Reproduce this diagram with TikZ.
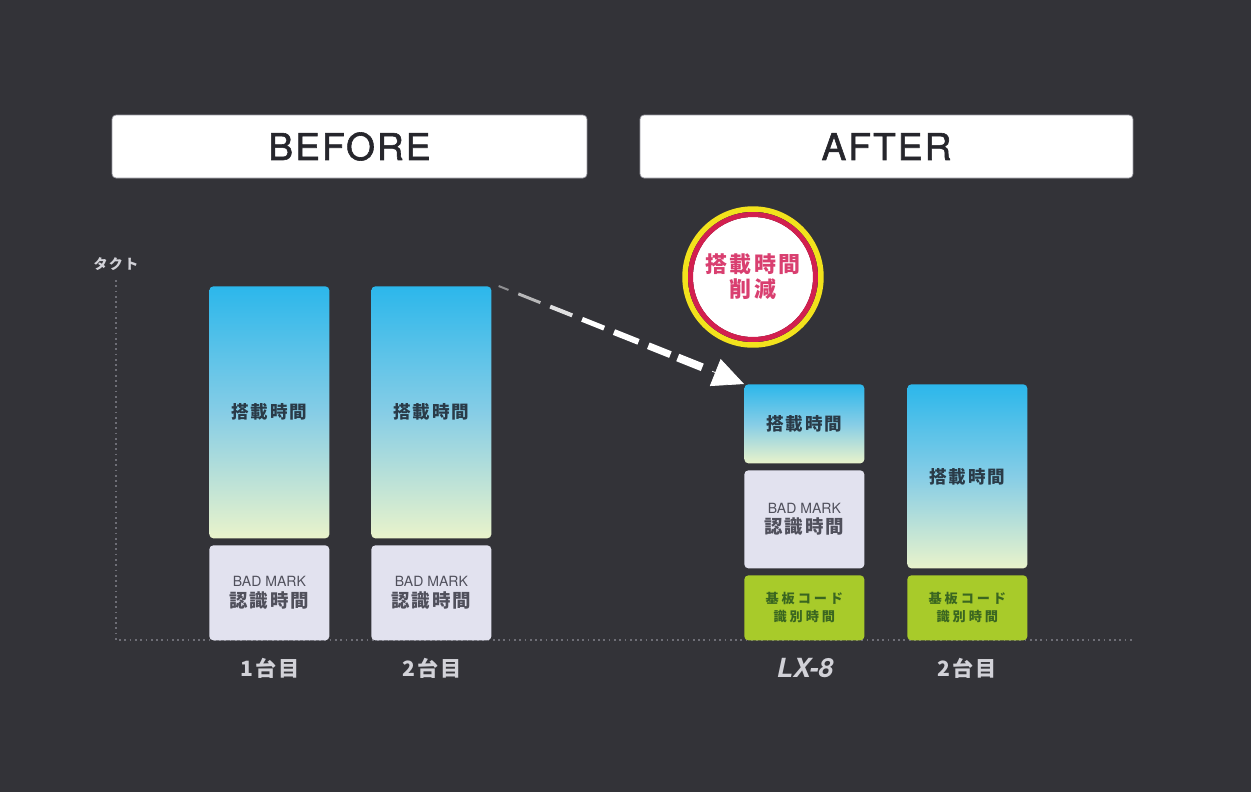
\documentclass[tikz,border=0pt]{standalone}
\usepackage{fontspec}
\setmainfont{TeX Gyre Heros}
\newfontfamily\headfont{TeX Gyre Heros}[LetterSpace=6, FakeBold=1.6]
\newfontfamily\cjk{Noto Sans CJK JP}[LetterSpace=10]
\newfontfamily\cjkwide{Noto Sans CJK JP}[LetterSpace=22]
\usetikzlibrary{calc,arrows.meta}

\definecolor{bgcolor}{HTML}{333338}
\definecolor{headline}{HTML}{9A9AA2}
\definecolor{headtext}{HTML}{26262C}
\definecolor{axisgray}{HTML}{6E6E76}
\definecolor{labeltext}{HTML}{D2D2D8}
\definecolor{bartop}{HTML}{2CB7EB}
\definecolor{barmid}{HTML}{86CDE6}
\definecolor{barbot}{HTML}{E9F3CB}
\definecolor{bartext}{HTML}{2A3B48}
\definecolor{badfill}{HTML}{E2E2EF}
\definecolor{badtext}{HTML}{50505C}
\definecolor{codefill}{HTML}{A8CB2A}
\definecolor{codetext}{HTML}{3A6620}
\definecolor{cuttext}{HTML}{D93F70}
\definecolor{cutred}{HTML}{D21F4F}
\definecolor{cutyellow}{HTML}{F2E21C}

\tikzset{
	header/.style={rectangle, rounded corners=0.08cm, fill=white, draw=headline, line width=0.4pt, minimum height=1.26cm, inner sep=0, font=\headfont\fontsize{21}{21}\selectfont, text=headtext},
	loadbar/.style={rectangle, rounded corners=0.08cm, inner sep=0, minimum width=2.4cm, anchor=north west, top color=bartop, bottom color=barbot, middle color=barmid, font=\cjk\bfseries\fontsize{10}{12}\selectfont, text=bartext},
	badbar/.style={rectangle, rounded corners=0.08cm, inner sep=0, minimum width=2.4cm, anchor=north west, fill=badfill, align=center, font=\fontsize{8}{11.5}\selectfont, text=badtext},
	codebar/.style={rectangle, rounded corners=0.08cm, inner sep=0, minimum width=2.4cm, anchor=north west, fill=codefill, align=center, font=\cjkwide\bfseries\fontsize{7.5}{10.2}\selectfont, text=codetext},
	unitlabel/.style={inner sep=0, font=\cjk\bfseries\fontsize{12}{12}\selectfont, text=labeltext},
	axisline/.style={draw=axisgray, line width=0.035cm, dotted},
}

\begin{document}
\begin{tikzpicture}[x=0.02cm, y=-0.02cm]
			%%%%% START %%%%%
			
			\useasboundingbox (0, 0) rectangle (1251, 792);
			\fill[bgcolor] (0, 0) rectangle (1251, 792);
			
			\node[header, minimum width=9.5cm] (before) at (349.5, 146.5) {BEFORE};
			\node[header, minimum width=9.86cm] (after) at (886.5, 146.5) {AFTER};
			
			\coordinate (ytop) at (116, 280);
			\coordinate (origin) at (116, 640);
			\coordinate (xend) at (1133, 640);
			\draw[axisline] (ytop) -- (origin) -- (xend);
			\node[inner sep=0, font=\cjk\bfseries\fontsize{8}{8}\selectfont, text=labeltext] (takt) at (116, 264) {タクト};
			
			\node[loadbar, minimum height=5.04cm] (b1top) at (209, 286) {搭載時間};
			\node[badbar, minimum height=1.9cm] (b1bad) at (209, 545) {BAD MARK\\{\cjk\bfseries\fontsize{10.5}{11.5}\selectfont 認識時間}};
			
			\node[loadbar, minimum height=5.04cm] (b2top) at (371, 286) {搭載時間};
			\node[badbar, minimum height=1.9cm] (b2bad) at (371, 545) {BAD MARK\\{\cjk\bfseries\fontsize{10.5}{11.5}\selectfont 認識時間}};
			
			\node[loadbar, minimum height=1.58cm] (lxtop) at (744, 384) {搭載時間};
			\node[badbar, minimum height=1.96cm] (lxbad) at (744, 470) {BAD MARK\\{\cjk\bfseries\fontsize{10.5}{11.5}\selectfont 認識時間}};
			\node[codebar, minimum height=1.3cm] (lxcode) at (744, 575) {基板コード\\識別時間};
			
			\node[loadbar, minimum height=3.68cm] (b4top) at (907, 384) {搭載時間};
			\node[codebar, minimum height=1.3cm] (b4code) at (907, 575) {基板コード\\識別時間};
			
			\node[unitlabel] (u1) at (270, 668) {1台目};
			\node[unitlabel] (u2) at (432, 668) {2台目};
			\node[unitlabel, font=\bfseries\itshape\fontsize{15}{15}\selectfont] (u3) at (805, 668) {LX-8};
			\node[unitlabel] (u4) at (967, 668) {2台目};
			
			% reduction badge
			\node[circle, fill=white, minimum size=2.4cm, inner sep=0, align=center, font=\cjk\bfseries\fontsize{12.5}{14.2}\selectfont, text=cuttext] (cut) at (753, 277) {搭載時間\\削減};
			\draw[cutyellow, line width=0.11cm] (cut.center) circle (1.36cm);
			\draw[cutred, line width=0.1cm] (cut.center) circle (1.25cm);
			
			% dashed arrow, growing
			\coordinate (arrstart) at ($(b2top.north east)+(7, 0)$);
			\coordinate (arrtip) at (lxtop.north west);
			\foreach \s/\e/\w/\o in {0/0.04/0.04cm/45, 0.08/0.17/0.06cm/65, 0.21/0.30/0.08cm/85, 0.34/0.43/0.10cm/100, 0.47/0.57/0.12cm/100, 0.61/0.70/0.14cm/100, 0.73/0.83/0.16cm/100}
				\draw[white!\o!bgcolor, line width=\w] ($(arrstart)!\s!(arrtip)$) -- ($(arrstart)!\e!(arrtip)$);
			\draw[white, line width=0.4pt, -{Triangle[length=0.62cm, width=0.58cm]}] ($(arrstart)!0.87!(arrtip)$) -- (arrtip);
			
			%%%%% END %%%%%
\end{tikzpicture}
\end{document}
